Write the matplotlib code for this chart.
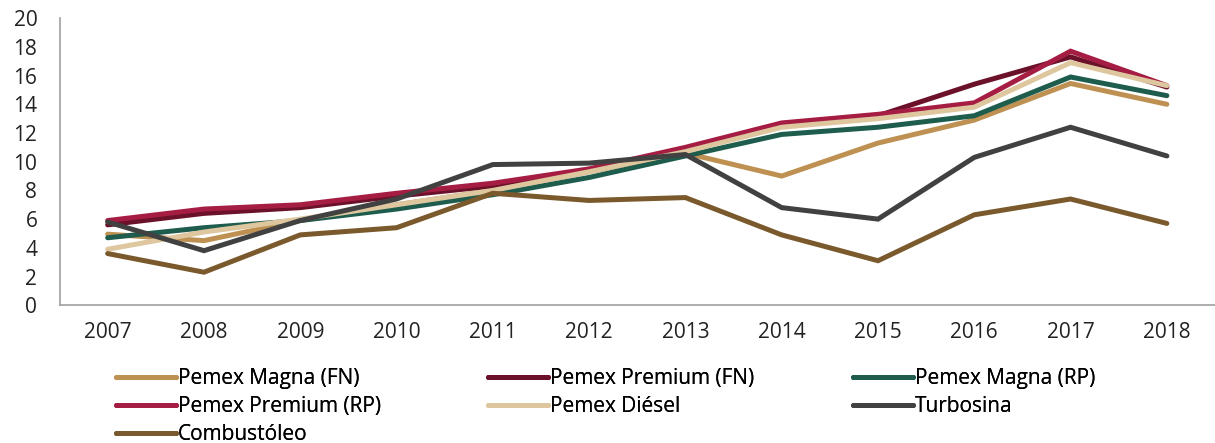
import numpy as np
import matplotlib
matplotlib.use('Agg')
import matplotlib.pyplot as plt

years = ['2007', '2008', '2009', '2010', '2011', '2012',
         '2013', '2014', '2015', '2016', '2017', '2018']

magna_fn = [4.95, 4.5, 5.9, 7.0, 8.0, 9.3, 10.6, 9.0, 11.3, 12.9, 15.45, 14.0]
premium_fn = [5.6, 6.4, 6.8, 7.6, 8.3, 9.4, 10.8, 12.6, 13.2, 15.4, 17.3, 15.2]
magna_rp = [4.7, 5.4, 5.9, 6.7, 7.7, 8.9, 10.4, 11.9, 12.4, 13.2, 15.9, 14.6]
premium_rp = [5.9, 6.7, 7.0, 7.8, 8.5, 9.5, 11.0, 12.7, 13.3, 14.1, 17.7, 15.3]
diesel = [3.9, 5.1, 6.0, 7.0, 8.0, 9.3, 10.7, 12.4, 13.0, 13.8, 16.9, 15.3]
turbosina = [5.8, 3.8, 5.9, 7.4, 9.8, 9.9, 10.5, 6.8, 6.0, 10.3, 12.4, 10.4]
combustoleo = [3.6, 2.3, 4.9, 5.4, 7.8, 7.3, 7.5, 4.9, 3.1, 6.3, 7.4, 5.7]

series = [
    ('Pemex Magna (FN)', magna_fn, '#BE9152'),
    ('Pemex Premium (FN)', premium_fn, '#6B1129'),
    ('Pemex Magna (RP)', magna_rp, '#1E5C4D'),
    ('Pemex Premium (RP)', premium_rp, '#A51D43'),
    ('Pemex Diésel', diesel, '#DEC79F'),
    ('Turbosina', turbosina, '#414141'),
    ('Combustóleo', combustoleo, '#7A592C'),
]

plt.rcParams['font.family'] = ['Open Sans', 'DejaVu Sans']
font_size = 15

fig = plt.figure(figsize=(12.15, 4.43), dpi=100)
ax = fig.add_axes([0.049, 0.311, 0.951, 0.648])

x = np.arange(len(years))
lines = []
for name, vals, col in series:
    ln, = ax.plot(x, vals, color=col, lw=3.6, label=name,
                  solid_capstyle='round', solid_joinstyle='miter')
    lines.append(ln)

ax.set_xlim(-0.5, len(years) - 0.5)
ax.set_ylim(0, 20)
ax.set_yticks(np.arange(0, 21, 2))
ax.set_xticks(x)
ax.set_xticklabels(years)
ax.tick_params(axis='both', length=0, labelsize=font_size, colors='#222222')
ax.tick_params(axis='x', pad=12)
ax.tick_params(axis='y', pad=16)
for s in ['top', 'right']:
    ax.spines[s].set_visible(False)
for s in ['left', 'bottom']:
    ax.spines[s].set_color('#A0A0A0')
    ax.spines[s].set_linewidth(1.2)

# legend in three columns, filled row by row
col_x = [118 / 1215, 490 / 1215, 855 / 1215]
for c in range(3):
    hs = lines[c::3]
    leg = fig.legend(handles=hs, labels=[h.get_label() for h in hs],
                     loc='upper left', bbox_to_anchor=(col_x[c] - 0.002, 0.169),
                     frameon=False, fontsize=font_size,
                     handlelength=2.9, handletextpad=0.1, labelspacing=0.34,
                     borderaxespad=0.0, borderpad=0.0)
    fig.add_artist(leg)

plt.savefig('out.png', dpi=100)
